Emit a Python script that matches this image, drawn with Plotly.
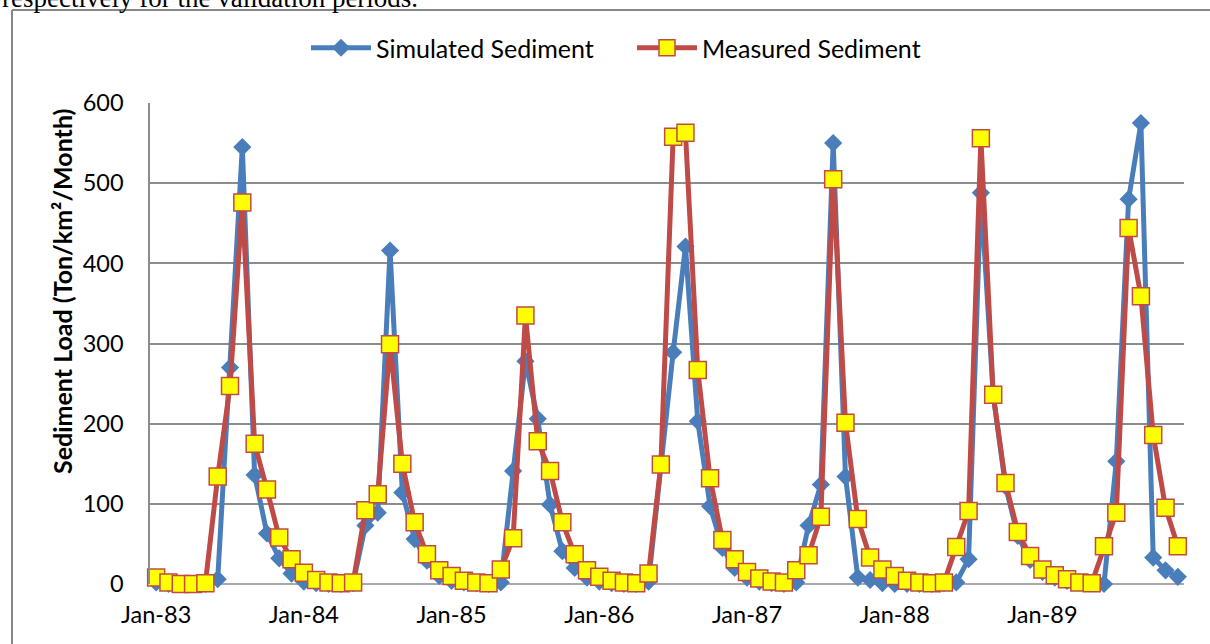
import plotly.graph_objects as go

# Monthly categories Jan-83 .. Dec-89
month_names = ["Jan", "Feb", "Mar", "Apr", "May", "Jun", "Jul", "Aug", "Sep", "Oct", "Nov", "Dec"]
years = ["83", "84", "85", "86", "87", "88", "89"]
months = [f"{m}-{y}" for y in years for m in month_names]
tick_labels = [f"Jan-{y}" for y in years]

simulated = [
    2, 0, 0, 0, 0, 6, 270, 545, 136, 63, 32, 13,
    3, 1, 0, 0, 1, 73, 89, 416, 114, 56, 29, 10,
    4, 2, 1, 0, 2, 141, 278, 206, 99, 41, 20, 8,
    3, 1, 0, 0, 3, 150, 289, 421, 203, 97, 45, 20,
    8, 3, 1, 0, 2, 73, 124, 550, 134, 8, 5, 1,
    0, 0, 0, 0, 1, 2, 31, 488, 236, 122, 60, 30,
    15, 8, 4, 2, 1, 0, 153, 480, 575, 33, 17, 9,
]
measured = [
    8, 2, 0, 0, 1, 134, 247, 476, 175, 118, 58, 31,
    14, 5, 2, 1, 2, 92, 112, 299, 150, 77, 37, 17,
    10, 4, 2, 1, 18, 57, 335, 178, 141, 77, 37, 17,
    9, 4, 2, 1, 13, 149, 558, 563, 267, 132, 55, 31,
    15, 7, 3, 2, 17, 36, 84, 505, 201, 81, 33, 18,
    10, 4, 2, 1, 2, 46, 91, 556, 236, 126, 65, 35,
    18, 11, 6, 2, 1, 47, 89, 444, 359, 186, 95, 47,
]

FONT = "Lato"
BLUE = "#4A7EBB"
RED = "#BE4B48"

fig = go.Figure()
fig.add_trace(go.Scatter(
    x=months, y=simulated, name="Simulated Sediment", mode="lines+markers",
    line=dict(color=BLUE, width=5),
    marker=dict(symbol="diamond", size=14, color=BLUE, line=dict(width=0)),
    cliponaxis=False,
))
fig.add_trace(go.Scatter(
    x=months, y=measured, name="Measured Sediment", mode="lines+markers",
    line=dict(color=RED, width=5),
    marker=dict(symbol="square", size=17, color="#FFFF00", line=dict(color=RED, width=1.5)),
    cliponaxis=False,
))

W, H = 1210, 644
L, T = 150, 103
R = W - 1184
B = H - 584
pw, ph = W - L - R, H - T - B

def px(xp):  # page x -> paper
    return (xp - L) / pw

def py(yp):  # page y -> paper
    return (H - B - yp) / ph

fig.update_layout(
    width=W, height=H,
    margin=dict(l=L, r=R, t=T, b=B),
    paper_bgcolor="white", plot_bgcolor="white",
    font=dict(family=FONT, size=20, color="black"),
    showlegend=True,
    legend=dict(
        orientation="h", x=px(306), xanchor="left", y=py(48), yanchor="middle",
        font=dict(family=FONT, size=25), itemwidth=60,
        entrywidth=251, entrywidthmode="pixels", bgcolor="rgba(0,0,0,0)",
    ),
    xaxis=dict(
        type="category", range=[-0.5, 83.5],
        tickmode="array", tickvals=tick_labels, ticktext=tick_labels,
        showgrid=False, zeroline=False, showline=False,
        ticks="outside", ticklen=10, tickcolor="rgba(0,0,0,0)",
        tickfont=dict(family=FONT, size=23.5),
    ),
    yaxis=dict(
        range=[0, 600], tickvals=[0, 100, 200, 300, 400, 500, 600],
        showgrid=True, gridcolor="#8C8C8C", gridwidth=1.5,
        zeroline=False, showline=True, linecolor="#8C8C8C", linewidth=1.5,
        ticks="outside", ticklen=20, tickcolor="rgba(0,0,0,0)",
        tickfont=dict(family=FONT, size=23.5),
    ),
    annotations=[
        dict(text="<b>Sediment Load (Ton/km²/Month)</b>", textangle=-90,
             xref="paper", yref="paper", x=px(62), y=py(292),
             xanchor="center", yanchor="middle", showarrow=False,
             font=dict(family=FONT, size=25, color="black")),
        dict(text="respectively for the validation periods.",
             xref="paper", yref="paper", x=px(0), y=py(-2),
             xanchor="left", yanchor="middle", showarrow=False,
             font=dict(family="Liberation Serif", size=27, color="black")),
    ],
    shapes=[
        dict(type="line", xref="paper", yref="paper",
             x0=px(12), x1=px(1260), y0=py(10), y1=py(10),
             line=dict(color="#878787", width=2), layer="below"),
        dict(type="line", xref="paper", yref="paper",
             x0=px(12), x1=px(12), y0=py(10), y1=py(700),
             line=dict(color="#878787", width=2), layer="below"),
        dict(type="line", xref="paper", yref="paper",
             x0=0, x1=1, y0=0, y1=0, line=dict(color="#8C8C8C", width=1.5), layer="below"),
    ],
)

fig.write_html("out.html", config={"displayModeBar": False},
               post_script="document.body.style.margin='0px';")
